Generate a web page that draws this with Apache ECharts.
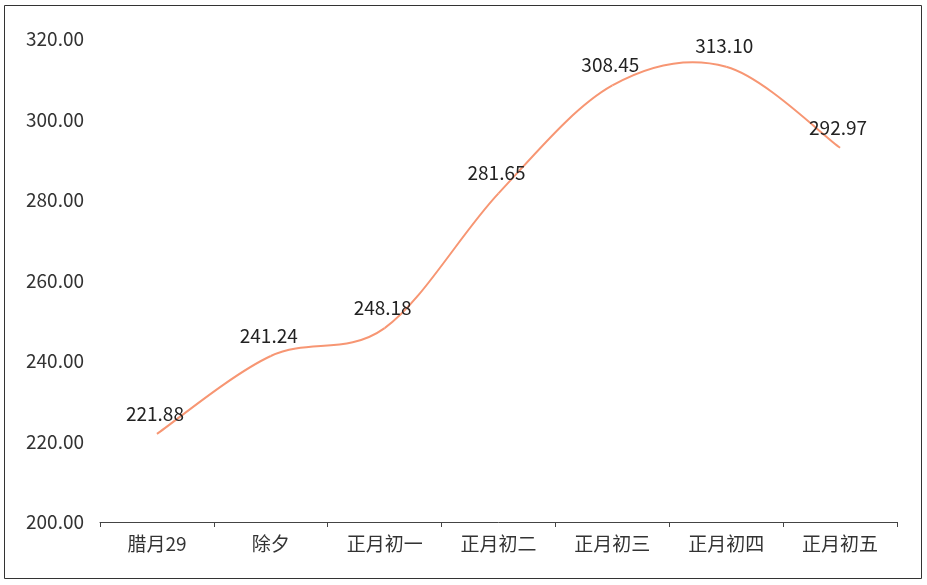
<!DOCTYPE html>
<html><head><meta charset="utf-8">
<script src="https://cdn.jsdelivr.net/npm/echarts@6/dist/echarts.min.js"></script>
<style>html,body{margin:0;padding:0;background:#fff}#c{width:927px;height:585px}</style>
</head><body><div id="c"></div>
<script>
const categories = ['腊月29','除夕','正月初一','正月初二','正月初三','正月初四','正月初五'];
const values = [221.88, 241.24, 248.18, 281.65, 308.45, 313.10, 292.97];
const yTicks = [200, 220, 240, 260, 280, 300, 320];
const chart = echarts.init(document.getElementById('c'));
const font = '"Noto Sans CJK SC", "Noto Sans", sans-serif';
const lineColor = '#F79673';
function renderCurve(params, api) {
  if (params.dataIndex !== 0) return null;
  const pts = values.map((v, i) => api.coord([i, v]));
  const n = pts.length;
  const children = [];
  for (let i = 0; i < n - 1; i++) {
    const p0 = pts[Math.max(i - 1, 0)], p1 = pts[i], p2 = pts[i + 1], p3 = pts[Math.min(i + 2, n - 1)];
    children.push({
      type: 'bezierCurve',
      shape: {
        x1: p1[0], y1: p1[1], x2: p2[0], y2: p2[1],
        cpx1: p1[0] + (p2[0] - p0[0]) / 6, cpy1: p1[1] + (p2[1] - p0[1]) / 6,
        cpx2: p2[0] - (p3[0] - p1[0]) / 6, cpy2: p2[1] - (p3[1] - p1[1]) / 6
      },
      style: { stroke: lineColor, lineWidth: 2, fill: 'none' }
    });
  }
  return { type: 'group', children };
}
chart.setOption({
  animation: false,
  graphic: [{type:'rect', shape:{x:4.5,y:5.5,width:917,height:573}, style:{fill:'none', stroke:'#333', lineWidth:1}}],
  grid: {left:100, right:30, top:39, bottom:63},
  xAxis: {
    type:'category', data: categories, boundaryGap:true,
    axisLine:{lineStyle:{color:'#444', width:1}},
    axisTick:{show:true, length:5, lineStyle:{color:'#444'}},
    axisLabel:{color:'#333', fontSize:19, margin:12, fontFamily:font}
  },
  yAxis: {
    type:'value', min:yTicks[0], max:yTicks[yTicks.length-1], interval:yTicks[1]-yTicks[0],
    axisLine:{show:false}, axisTick:{show:false}, splitLine:{show:false},
    axisLabel:{color:'#333', fontSize:19, margin:16, fontFamily:font, formatter: v => v.toFixed(2)}
  },
  series: [
    {
      type:'custom', data: values.map((v, i) => [i, v]), renderItem: renderCurve, silent:true,
      encode:{x:0, y:1}
    },
    {
      type:'line', data: values, symbol:'circle', symbolSize:2, showSymbol:true, silent:true,
      itemStyle:{color:'rgba(0,0,0,0)'}, lineStyle:{width:0, color:'rgba(0,0,0,0)'},
      label:{show:true, position:'top', distance:10, offset:[-2,0], color:'#222', fontSize:19, fontFamily:font, formatter: p => p.value.toFixed(2)}
    }
  ]
});
</script></body></html>
